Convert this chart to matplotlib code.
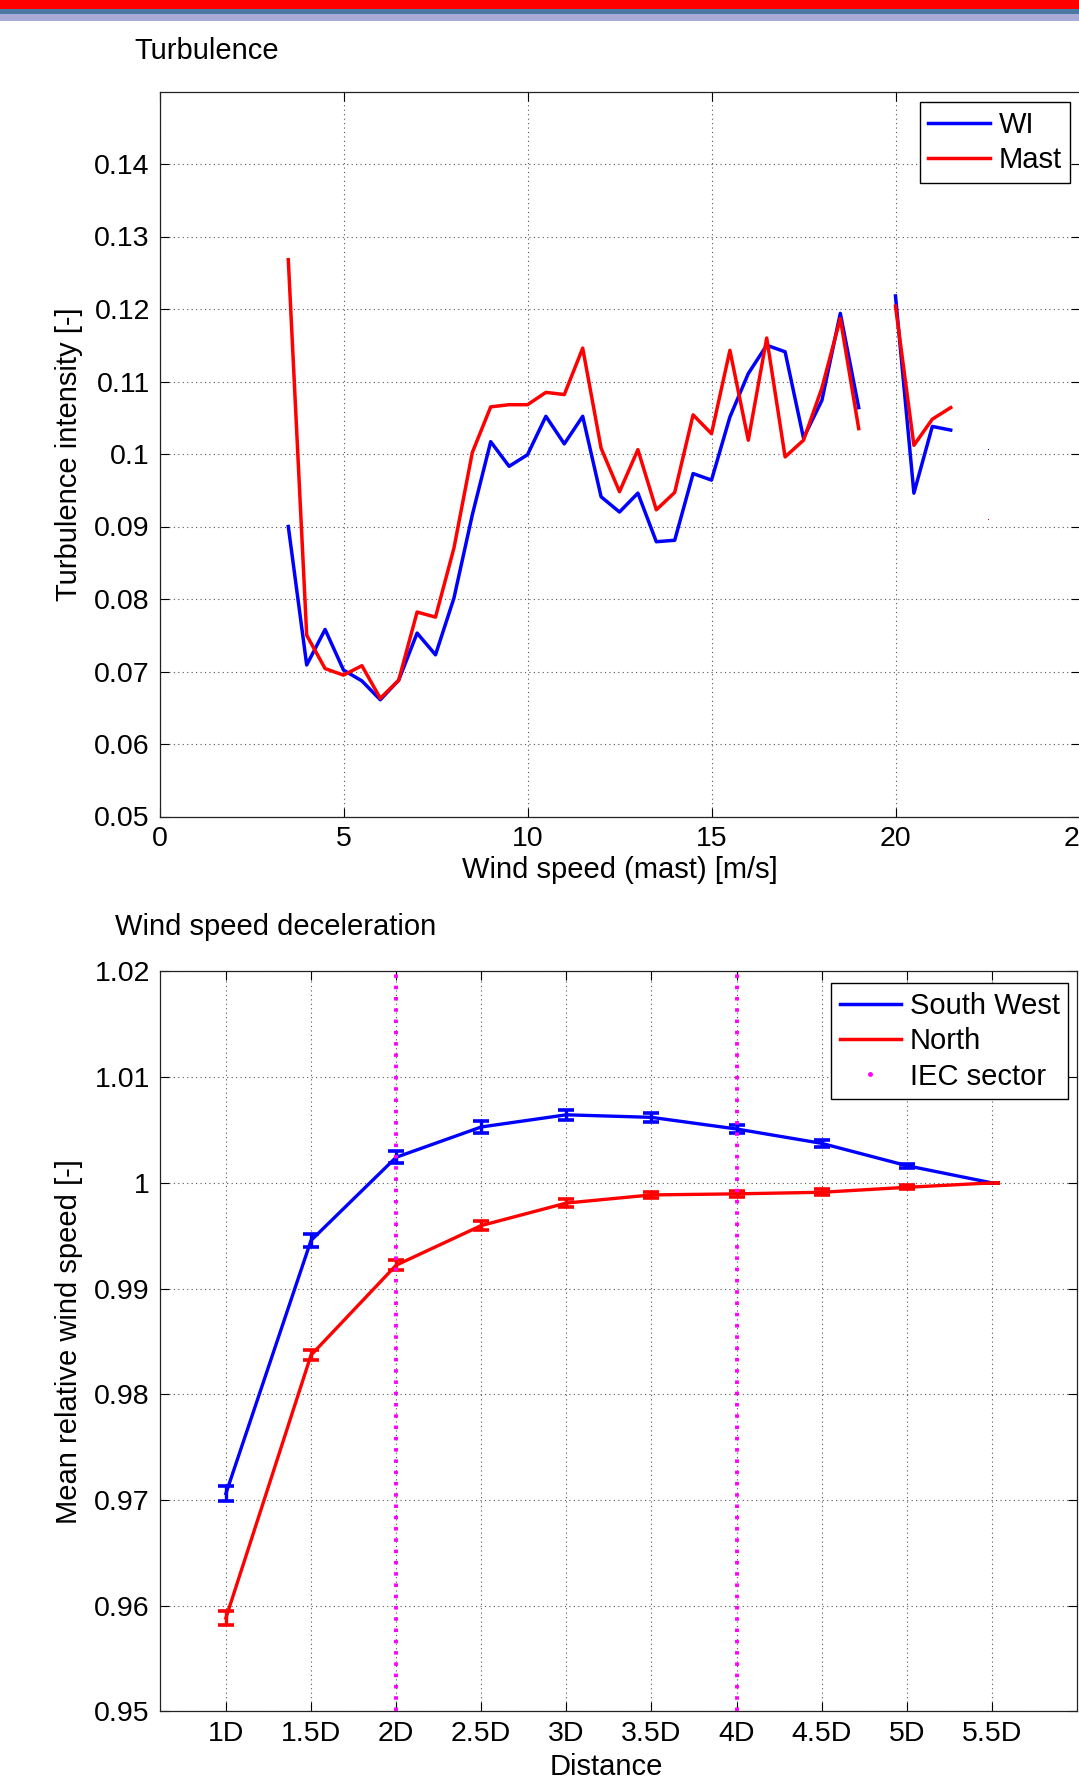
import matplotlib
matplotlib.use("Agg")
import matplotlib.pyplot as plt
from matplotlib.patches import Rectangle
from matplotlib.lines import Line2D
import numpy as np

plt.rcParams['font.family'] = ['Liberation Sans', 'DejaVu Sans']

# turbulence intensity binned on mast wind speed (nan = empty bin)
wind_speed = [3.5, 4, 4.5, 5, 5.5, 6, 6.5, 7, 7.5, 8, 8.5, 9, 9.5, 10, 10.5, 11, 11.5,
              12, 12.5, 13, 13.5, 14, 14.5, 15, 15.5, 16, 16.5, 17, 17.5, 18, 18.5,
              19, 19.5, 20, 20.5, 21, 21.5, 22, 22.5]
ti_wi = [0.0900, 0.0709, 0.0758, 0.0702, 0.0687, 0.0661, 0.0688, 0.0753, 0.0723, 0.0801,
         0.0916, 0.1017, 0.0983, 0.0999, 0.1052, 0.1014, 0.1052, 0.0941, 0.0920, 0.0946,
         0.0879, 0.0881, 0.0973, 0.0964, 0.1051, 0.1111, 0.1150, 0.1141, 0.1022, 0.1074,
         0.1194, 0.1064, np.nan, 0.1218, 0.0946, 0.1038, 0.1033, np.nan, 0.1005]
ti_mast = [0.1268, 0.0750, 0.0704, 0.0695, 0.0708, 0.0663, 0.0688, 0.0782, 0.0775, 0.0870,
           0.1002, 0.1065, 0.1068, 0.1068, 0.1085, 0.1082, 0.1146, 0.1008, 0.0948, 0.1006,
           0.0923, 0.0947, 0.1054, 0.1028, 0.1143, 0.1019, 0.1160, 0.0996, 0.1019, 0.1091,
           0.1187, 0.1035, np.nan, 0.1204, 0.1012, 0.1048, 0.1064, np.nan, 0.0909]

# wind speed deceleration
dist_labels = ['1D', '1.5D', '2D', '2.5D', '3D', '3.5D', '4D', '4.5D', '5D', '5.5D']
sw_mean = [0.9706, 0.99455, 1.00242, 1.00529, 1.00644, 1.0062, 1.0051, 1.00374, 1.00163, 1.0]
sw_err = [0.0007, 0.0006, 0.00057, 0.00054, 0.0005, 0.0004, 0.0004, 0.0003, 0.0002, 0.0]
north_mean = [0.95882, 0.9837, 0.99221, 0.99596, 0.99809, 0.99886, 0.99896, 0.99911, 0.99958, 1.0]
north_err = [0.00066, 0.0005, 0.0005, 0.00045, 0.0004, 0.0003, 0.0003, 0.0003, 0.0002, 0.0]
iec_sector = ['2D', '4D']

W, H = 1079, 1779
fig = plt.figure(figsize=(W / 100, H / 100), dpi=100)

# header bands
for y0, h, c in [(0, 9, '#ff0000'), (9, 5, '#4c78a4'), (14, 7, '#aaaad6')]:
    fig.add_artist(Rectangle((0, 1 - (y0 + h) / H), 1, h / H, transform=fig.transFigure,
                             color=c, lw=0))

fig.text(134 / W, 1 - 59 / H, 'Turbulence', fontsize=21, va='baseline')
fig.text(115 / W, 1 - 935 / H, 'Wind speed deceleration', fontsize=21, va='baseline')


def style(ax):
    ax.grid(True, color='#555555', linestyle=(0, (1, 3)), linewidth=0.8)
    ax.tick_params(direction='in', length=6.5, width=0.8, top=True, right=True,
                   labelsize=20.5, pad=7)
    for s in ax.spines.values():
        s.set_linewidth(0.9)
        s.set_color('#222222')
    ax.yaxis.set_major_formatter(plt.FuncFormatter(lambda v, p: '%g' % round(v, 4)))


ax1 = fig.add_axes([159.5 / W, 1 - 816.5 / H, 920 / W, 725 / H])
ax1.plot(wind_speed, ti_wi, color='#0000ff', lw=2.5, marker=',', label='WI')
ax1.plot(wind_speed, ti_mast, color='#ff0000', lw=2.5, marker=',', label='Mast')
ax1.set_xlim(0, 25)
ax1.set_ylim(0.05, 0.15)
ax1.set_xticks([0, 5, 10, 15, 20, 25])
ax1.set_yticks([0.05, 0.06, 0.07, 0.08, 0.09, 0.1, 0.11, 0.12, 0.13, 0.14])
style(ax1)
ax1.set_xlabel('Wind speed (mast) [m/s]', fontsize=21, labelpad=3)
ax1.set_ylabel('Turbulence intensity [-]', fontsize=21, labelpad=8)
leg1 = ax1.legend(loc='upper right', bbox_to_anchor=(0.990, 0.985), borderaxespad=0,
                  fontsize=21, fancybox=False, edgecolor='black', framealpha=1,
                  handlelength=2.1, handletextpad=0.3, labelspacing=0.25,
                  borderpad=0.3)
leg1.get_frame().set_linewidth(1.0)

ax2 = fig.add_axes([159.5 / W, 1 - 1711.3 / H, 917.5 / W, 739.8 / H])
pos = np.arange(1, len(dist_labels) + 1)
for x in iec_sector:
    ax2.axvline(pos[dist_labels.index(x)], color='#ff00ff', lw=2.8,
                linestyle=(0, (0.9, 2.0)), zorder=4)
ax2.errorbar(pos, sw_mean, yerr=sw_err, color='#0000ff', lw=2.4, elinewidth=2.4,
             capsize=5.5, capthick=2.6, label='South West', zorder=3)
ax2.errorbar(pos, north_mean, yerr=north_err, color='#ff0000', lw=2.4, elinewidth=2.4,
             capsize=5.5, capthick=2.6, label='North', zorder=3)
ax2.set_xlim(0.22, 11.0)
ax2.set_ylim(0.95, 1.02)
ax2.set_xticks(pos)
ax2.set_xticklabels(dist_labels)
ax2.set_yticks([0.95, 0.96, 0.97, 0.98, 0.99, 1.0, 1.01, 1.02])
style(ax2)
ax2.set_xlabel('Distance', fontsize=21)
ax2.xaxis.set_label_coords(0.487, -0.057)
ax2.set_ylabel('Mean relative wind speed [-]', fontsize=21, labelpad=8)
handles = [Line2D([], [], color='#0000ff', lw=2.5),
           Line2D([], [], color='#ff0000', lw=2.5),
           Line2D([], [], color='#ff00ff', marker='.', markersize=5, linestyle='none')]
leg2 = ax2.legend(handles, ['South West', 'North', 'IEC sector'], loc='upper right',
                  bbox_to_anchor=(0.9905, 0.984), borderaxespad=0, fontsize=21,
                  fancybox=False, edgecolor='black', framealpha=1, handlelength=2.1,
                  handletextpad=0.3, labelspacing=0.25, borderpad=0.3)
leg2.get_frame().set_linewidth(1.0)

fig.savefig('out.png', dpi=100)
